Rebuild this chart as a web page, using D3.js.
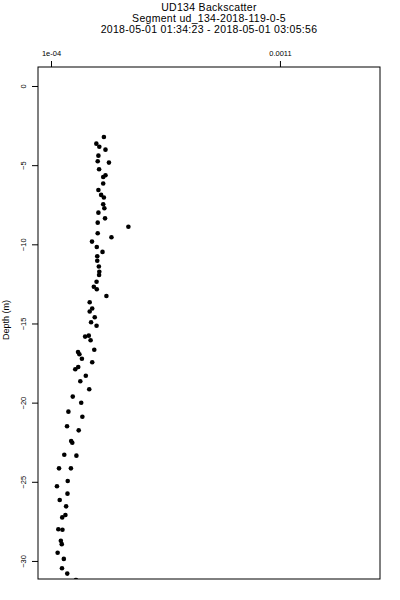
<!DOCTYPE html>
<html>
<head>
<meta charset="utf-8">
<script src="https://d3js.org/d3.v7.min.js"></script>
<style>
    body { margin: 0; background: #ffffff; }
    text { font-family: "Liberation Sans", Arial, sans-serif; fill: #000000; }
</style>
</head>
<body>
<div id="chart"></div>
<script>
// title lines
var titleLines = [
    "UD134 Backscatter",
    "Segment ud_134-2018-119-0-5",
    "2018-05-01 01:34:23 - 2018-05-01 03:05:56"
];

// depth (m), top to bottom
var depth = [
    -3.22, -3.64, -3.84, -4.02, -4.40, -4.75, -4.84, -5.26, -5.64, -5.75,
    -6.16, -6.57, -6.88, -7.04, -7.47, -7.72, -8.00, -8.36, -8.63, -8.89,
    -9.30, -9.55, -9.83, -10.17, -10.48, -10.75, -11.04, -11.40, -11.73, -11.94,
    -12.36, -12.68, -12.84, -13.26, -13.66, -14.05, -14.24, -14.61, -14.92, -15.14,
    -15.77, -15.83, -16.06, -16.66, -16.80, -16.94, -17.23, -17.45, -17.75, -17.89,
    -18.30, -18.65, -19.15, -19.62, -20.01, -20.57, -20.89, -21.49, -21.75, -22.42,
    -22.53, -23.29, -23.35, -24.15, -24.15, -24.95, -25.28, -25.75, -26.15, -26.55,
    -27.10, -27.25, -28.00, -28.03, -28.72, -28.94, -29.48, -29.87, -30.46, -30.80,
    -31.20
];

// backscatter, same order as depth
var backscatter = [
    3.31e-4, 2.98e-4, 3.11e-4, 3.38e-4, 3.07e-4, 3.04e-4, 3.53e-4, 3.10e-4, 3.38e-4, 3.28e-4,
    3.28e-4, 3.07e-4, 3.19e-4, 3.31e-4, 3.28e-4, 3.33e-4, 3.07e-4, 3.36e-4, 3.04e-4, 4.38e-4,
    3.04e-4, 3.64e-4, 2.79e-4, 3.00e-4, 3.25e-4, 3.02e-4, 3.02e-4, 3.09e-4, 3.11e-4, 3.10e-4,
    2.99e-4, 2.87e-4, 3.00e-4, 3.42e-4, 2.69e-4, 2.80e-4, 2.69e-4, 2.91e-4, 2.75e-4, 2.99e-4,
    2.65e-4, 2.49e-4, 2.73e-4, 2.89e-4, 2.18e-4, 2.24e-4, 2.35e-4, 2.80e-4, 2.19e-4, 2.06e-4,
    2.52e-4, 2.28e-4, 2.67e-4, 1.95e-4, 2.32e-4, 1.76e-4, 2.37e-4, 1.70e-4, 2.21e-4, 1.88e-4,
    1.93e-4, 1.58e-4, 2.11e-4, 1.35e-4, 1.87e-4, 1.73e-4, 1.26e-4, 1.72e-4, 1.38e-4, 1.66e-4,
    1.63e-4, 1.49e-4, 1.32e-4, 1.50e-4, 1.43e-4, 1.47e-4, 1.29e-4, 1.56e-4, 1.48e-4, 1.71e-4,
    2.09e-4
];

// axis ticks
var xTicks = [1e-4, 0.0011];
var xTickLabels = ["1e-04", "0.0011"];
var yTicks = [0, -5, -10, -15, -20, -25, -30];

var xDomain = [4.32e-5, 1.537e-3];
var yDomain = [1.2, -31.14];

var margin = {top: 67, right: 20, bottom: 21, left: 38};
var width = 400 - margin.left - margin.right;
var height = 600 - margin.top - margin.bottom;

var svg = d3.select("#chart")
    .append("svg")
    .attr("width", 400)
    .attr("height", 600);

var x = d3.scaleLinear()
    .domain(xDomain)
    .range([0, width]);

var y = d3.scaleLinear()
    .domain(yDomain)
    .range([0, height]);

// titles
svg.selectAll(".title")
    .data(titleLines)
    .enter()
    .append("text")
    .attr("class", "title")
    .attr("x", margin.left + width / 2)
    .attr("y", function (d, i) { return 10.5 + i * 11; })
    .attr("text-anchor", "middle")
    .attr("font-size", "10.5px")
    .attr("letter-spacing", "0.3px")
    .text(function (d) { return d; });

var plot = svg.append("g")
    .attr("transform", "translate(" + margin.left + "," + margin.top + ")");

plot.append("clipPath")
    .attr("id", "clip")
    .append("rect")
    .attr("width", width)
    .attr("height", height);

// points
var points = depth.map(function (d, i) {
    return {depth: d, value: backscatter[i]};
});

plot.append("g")
    .attr("clip-path", "url(#clip)")
    .selectAll("circle")
    .data(points)
    .enter()
    .append("circle")
    .attr("cx", function (d) { return x(d.value); })
    .attr("cy", function (d) { return y(d.depth); })
    .attr("r", 2.3)
    .attr("fill", "#000000");

// top axis
var xAxis = d3.axisTop(x)
    .tickValues(xTicks)
    .tickSize(6)
    .tickPadding(5)
    .tickFormat(function (d, i) { return xTickLabels[i]; });

var gx = plot.append("g").call(xAxis);
gx.select(".domain").remove();
gx.selectAll("text")
    .attr("font-size", "7.5px")
    .attr("font-family", null);

// left axis, labels turned like R does
var yAxis = d3.axisLeft(y)
    .tickValues(yTicks)
    .tickSize(6)
    .tickFormat(d3.format("d"));

var gy = plot.append("g").call(yAxis);
gy.select(".domain").remove();
gy.selectAll(".tick text")
    .attr("x", null)
    .attr("dy", null)
    .attr("font-family", null)
    .attr("font-size", "7.5px")
    .attr("text-anchor", "middle")
    .attr("transform", "translate(-12,0) rotate(-90)");

gx.selectAll("line, text").attr("fill", null);
gy.selectAll("line").attr("stroke", "#000000");
gx.selectAll("line").attr("stroke", "#000000");

// plot box
plot.append("rect")
    .attr("width", width)
    .attr("height", height)
    .attr("fill", "none")
    .attr("stroke", "#000000")
    .attr("stroke-width", 1);

// y axis title
svg.append("text")
    .attr("transform", "translate(9," + (margin.top + height / 2 - 3) + ") rotate(-90)")
    .attr("text-anchor", "middle")
    .attr("font-size", "9px")
    .text("Depth (m)");
</script>
</body>
</html>
